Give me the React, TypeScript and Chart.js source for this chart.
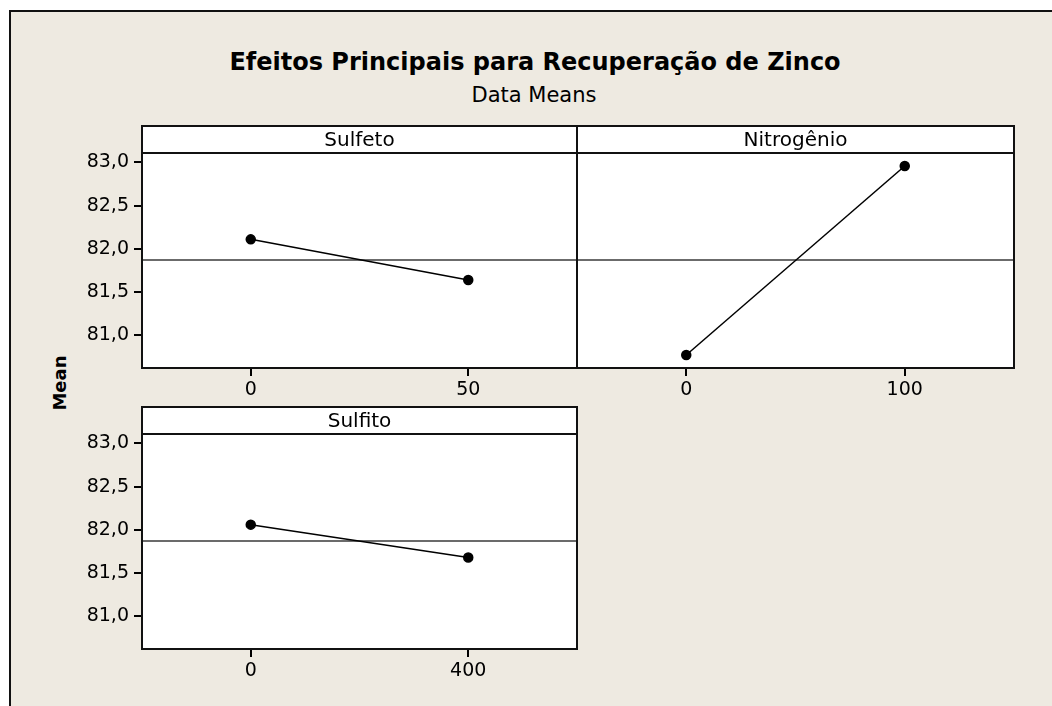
import React, { useEffect, useRef } from "react";
import { Chart, registerables } from "chart.js";

Chart.register(...registerables);

// ---- data ----
const chartTitle = "Efeitos Principais para Recuperação de Zinco";
const chartSubtitle = "Data Means";
const yAxisTitle = "Mean";

const sulfetoLevels = ["0", "50"];
const sulfetoMeans = [82.11, 81.64];

const nitrogenioLevels = ["0", "100"];
const nitrogenioMeans = [80.77, 82.96];

const sulfitoLevels = ["0", "400"];
const sulfitoMeans = [82.06, 81.68];

const overallMean = 81.87;

const yTickValues = [81.0, 81.5, 82.0, 82.5, 83.0];
const yTickLabels = ["81,0", "81,5", "82,0", "82,5", "83,0"];
const yMin = 80.62;
const yMax = 83.11;

// ---- layout ----
const W = 1052;
const H = 706;
const FONT = "'DejaVu Sans', Verdana, sans-serif";
const BG = "#EEEAE1";
const HEADER_H = 27;

type Area = { left: number; right: number; top: number; bottom: number };

type PanelSpec = {
  name: string;
  labels: string[];
  values: number[];
  area: Area;
  showY: boolean;
};

const panels: PanelSpec[] = [
  { name: "Sulfeto", labels: sulfetoLevels, values: sulfetoMeans, area: { left: 142, right: 577, top: 153, bottom: 368 }, showY: true },
  { name: "Nitrogênio", labels: nitrogenioLevels, values: nitrogenioMeans, area: { left: 577, right: 1014, top: 153, bottom: 368 }, showY: false },
  { name: "Sulfito", labels: sulfitoLevels, values: sulfitoMeans, area: { left: 142, right: 577, top: 434, bottom: 649 }, showY: true },
];

const decorPlugin = {
  id: "panelDecor",
  beforeDraw(chart: any, _args: any, opts: any) {
    const { ctx, chartArea: a } = chart;
    ctx.save();
    ctx.fillStyle = "#ffffff";
    ctx.fillRect(a.left, a.top - HEADER_H, a.right - a.left, a.bottom - a.top + HEADER_H);
    ctx.restore();
  },
  beforeDatasetsDraw(chart: any, _args: any, opts: any) {
    const { ctx, chartArea: a, scales } = chart;
    const y = scales.y.getPixelForValue(opts.refValue);
    ctx.save();
    ctx.strokeStyle = "#3a3a3a";
    ctx.lineWidth = 1.5;
    ctx.beginPath();
    ctx.moveTo(a.left, y);
    ctx.lineTo(a.right, y);
    ctx.stroke();
    ctx.restore();
  },
  afterDraw(chart: any, _args: any, opts: any) {
    const { ctx, chartArea: a } = chart;
    ctx.save();
    ctx.strokeStyle = "#111111";
    ctx.lineWidth = 2;
    ctx.strokeRect(a.left, a.top - HEADER_H, a.right - a.left, a.bottom - a.top + HEADER_H);
    ctx.beginPath();
    ctx.moveTo(a.left, a.top);
    ctx.lineTo(a.right, a.top);
    ctx.stroke();
    ctx.fillStyle = "#000";
    ctx.font = `20px ${FONT}`;
    ctx.textAlign = "center";
    ctx.textBaseline = "middle";
    ctx.fillText(opts.title, (a.left + a.right) / 2, a.top - HEADER_H / 2 + 1);
    ctx.restore();
  },
};

function makePanel(canvas: HTMLCanvasElement, spec: PanelSpec) {
  const yW = spec.showY ? 80 : 0;
  const xH = 40;
  const a = spec.area;
  return new Chart(canvas, {
    type: "line",
    data: {
      labels: spec.labels,
      datasets: [
        {
          data: spec.values,
          borderColor: "#000",
          borderWidth: 1.5,
          pointRadius: 4.5,
          pointBackgroundColor: "#000",
          pointBorderColor: "#000",
          tension: 0,
        },
      ],
    },
    options: {
      responsive: false,
      animation: false,
      devicePixelRatio: 1,
      events: [],
      layout: {
        autoPadding: false,
        padding: { left: a.left - yW, top: a.top, right: W - a.right, bottom: H - a.bottom - xH },
      },
      plugins: {
        legend: { display: false },
        tooltip: { enabled: false },
        title: { display: false },
        panelDecor: { title: spec.name, refValue: overallMean },
      } as any,
      scales: {
        x: {
          type: "category",
          offset: true,
          border: { display: false },
          grid: { display: true, drawOnChartArea: false, drawTicks: true, tickLength: 8, color: "#000", lineWidth: 2 },
          ticks: { color: "#000", font: { family: FONT, size: 19 }, padding: 3, maxRotation: 0 },
          afterFit: (s: any) => {
            s.height = xH;
          },
        },
        y: {
          type: "linear",
          min: yMin,
          max: yMax,
          border: { display: false },
          afterBuildTicks: (s: any) => {
            s.ticks = yTickValues.map((v) => ({ value: v }));
          },
          grid: { display: spec.showY, drawOnChartArea: false, drawTicks: true, tickLength: 8, color: "#000", lineWidth: 2 },
          ticks: {
            display: spec.showY,
            color: "#000",
            font: { family: FONT, size: 19 },
            padding: 5,
            callback: (_v: any, i: number) => yTickLabels[i],
          },
          afterFit: (s: any) => {
            s.width = yW;
          },
        },
      },
    } as any,
    plugins: [decorPlugin],
  });
}

export default function App() {
  const refs = [useRef<HTMLCanvasElement>(null), useRef<HTMLCanvasElement>(null), useRef<HTMLCanvasElement>(null)];

  useEffect(() => {
    const charts = panels.map((p, i) => makePanel(refs[i].current as HTMLCanvasElement, p));
    return () => charts.forEach((c) => c.destroy());
  }, []);

  return (
    <div style={{ position: "absolute", left: 0, top: 0, width: W, height: H, overflow: "hidden", background: "#fff" }}>
      <div
        style={{
          position: "absolute",
          left: 9,
          top: 10,
          width: W,
          height: H,
          background: BG,
          borderTop: "2px solid #111",
          borderLeft: "2px solid #111",
        }}
      />
      <div
        style={{
          position: "absolute",
          left: 0,
          top: 50,
          width: 1070,
          textAlign: "center",
          fontFamily: FONT,
          fontWeight: "bold",
          fontSize: 24,
          lineHeight: "24px",
          color: "#000",
          whiteSpace: "nowrap",
        }}
      >
        {chartTitle}
      </div>
      <div
        style={{
          position: "absolute",
          left: 0,
          top: 85,
          width: 1068,
          textAlign: "center",
          fontFamily: FONT,
          fontSize: 21,
          lineHeight: "21px",
          color: "#000",
          whiteSpace: "nowrap",
        }}
      >
        {chartSubtitle}
      </div>
      <div
        style={{
          position: "absolute",
          left: 10,
          top: 371,
          width: 100,
          textAlign: "center",
          fontFamily: FONT,
          fontWeight: "bold",
          fontSize: 18,
          lineHeight: "24px",
          color: "#000",
          transform: "rotate(-90deg)",
          transformOrigin: "50% 50%",
        }}
      >
        {yAxisTitle}
      </div>
      {panels.map((p, i) => (
        <canvas
          key={p.name}
          ref={refs[i]}
          width={W}
          height={H}
          style={{ position: "absolute", left: 0, top: 0, width: W, height: H }}
        />
      ))}
    </div>
  );
}
